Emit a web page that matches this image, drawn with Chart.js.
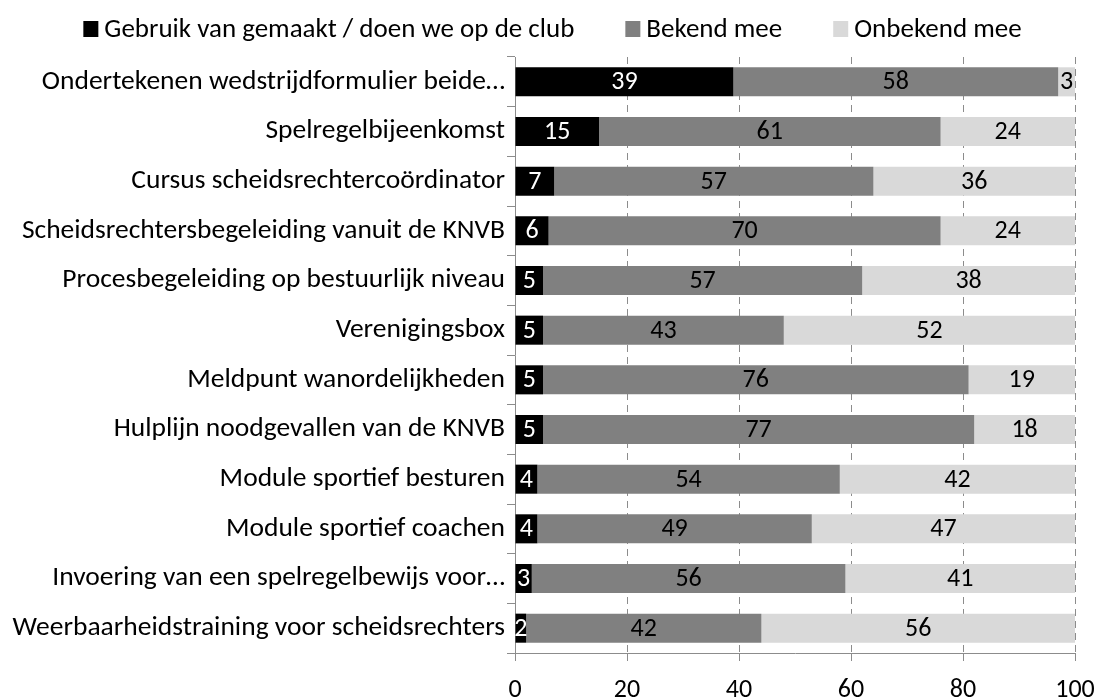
<!DOCTYPE html>
<html>
<head>
<meta charset="utf-8">
<script src="https://cdn.jsdelivr.net/npm/chart.js@4.4.1/dist/chart.umd.min.js"></script>
<style>
html,body{margin:0;padding:0;background:#fff;}
#wrap{width:1097px;height:698px;position:relative;}
</style>
</head>
<body>
<div id="wrap"><canvas id="c" width="1097" height="698"></canvas></div>
<script>
const categories = [
  "Ondertekenen wedstrijdformulier beide…",
  "Spelregelbijeenkomst",
  "Cursus scheidsrechtercoördinator",
  "Scheidsrechtersbegeleiding vanuit de KNVB",
  "Procesbegeleiding op bestuurlijk niveau",
  "Verenigingsbox",
  "Meldpunt wanordelijkheden",
  "Hulplijn noodgevallen van de KNVB",
  "Module sportief besturen",
  "Module sportief coachen",
  "Invoering van een spelregelbewijs voor…",
  "Weerbaarheidstraining voor scheidsrechters"
];
const seriesNames = ["Gebruik van gemaakt / doen we op de club", "Bekend mee", "Onbekend mee"];
const gebruikt = [39, 15, 7, 6, 5, 5, 5, 5, 4, 4, 3, 2];
const bekend   = [58, 61, 57, 70, 57, 43, 76, 77, 54, 49, 56, 42];
const onbekend = [3, 24, 36, 24, 38, 52, 19, 18, 42, 47, 41, 56];
const xTicks = [0, 20, 40, 60, 80, 100];

const FONT = "Carlito, Calibri, 'Liberation Sans Narrow', 'Open Sans', sans-serif";
const colors = ["#000000", "#808080", "#d9d9d9"];
const labelColors = ["#ffffff", "#000000", "#000000"];

const valueLabels = {
  id: 'valueLabels',
  afterDatasetsDraw(chart) {
    const ctx = chart.ctx;
    ctx.save();
    ctx.font = "26px " + FONT;
    ctx.textAlign = 'center';
    ctx.textBaseline = 'middle';
    chart.data.datasets.forEach((ds, di) => {
      const meta = chart.getDatasetMeta(di);
      meta.data.forEach((el, i) => {
        const v = ds.data[i];
        const cx = (el.x + el.base) / 2;
        ctx.fillStyle = labelColors[di];
        ctx.fillText(String(v), cx, el.y + 1);
      });
    });
    ctx.restore();
  }
};

// Legend drawn as a row of boxes + text, centred over the canvas
const topLegend = {
  id: 'topLegend',
  afterDraw(chart) {
    const ctx = chart.ctx;
    const box = 15, gapText = 6, gapItem = 51, cy = 29;
    ctx.save();
    ctx.font = "27px " + FONT;
    ctx.textBaseline = 'middle';
    ctx.textAlign = 'left';
    const widths = seriesNames.map(t => ctx.measureText(t).width);
    const total = widths.reduce((a, w) => a + box + gapText + w, 0) + gapItem * (seriesNames.length - 1);
    let x = (chart.width - total) / 2 + 4;
    seriesNames.forEach((t, i) => {
      ctx.fillStyle = colors[i];
      ctx.fillRect(x, cy - 8, box, 16);
      ctx.fillStyle = '#000';
      ctx.fillText(t, x + box + gapText, cy + 1);
      x += box + gapText + widths[i] + gapItem;
    });
    ctx.restore();
  }
};

new Chart(document.getElementById('c'), {
  type: 'bar',
  data: {
    labels: categories,
    datasets: [
      { label: seriesNames[0], data: gebruikt, backgroundColor: colors[0] },
      { label: seriesNames[1], data: bekend, backgroundColor: colors[1] },
      { label: seriesNames[2], data: onbekend, backgroundColor: colors[2] }
    ]
  },
  options: {
    indexAxis: 'y',
    responsive: false,
    animation: false,
    devicePixelRatio: 1,
    layout: { padding: { left: 0, right: 22, top: 57, bottom: 0 } },
    datasets: { bar: { categoryPercentage: 0.585, barPercentage: 1.0, borderWidth: 0 } },
    plugins: {
      legend: { display: false },
      tooltip: { enabled: false }
    },
    scales: {
      x: {
        stacked: true,
        min: 0, max: 100,
        afterBuildTicks(s) { s.ticks = xTicks.map(v => ({ value: v })); },
        afterFit(s) { s.height = 45; s.paddingRight = 0; s.paddingLeft = 0; },
        ticks: { font: { family: FONT, size: 26 }, color: '#000', padding: 14, maxRotation: 0 },
        grid: {
          color: '#8c8c8c', lineWidth: 1, drawTicks: true, tickLength: 8,
          tickColor: '#8c8c8c', tickBorderDash: []
        },
        border: { display: true, color: '#8c8c8c', width: 1, dash: [7, 5] }
      },
      y: {
        stacked: true,
        afterFit(s) { s.width = 515; s.paddingTop = 0; s.paddingBottom = 0; },
        ticks: { font: { family: FONT, size: 27.5 }, color: '#000', padding: 2, autoSkip: false },
        grid: {
          offset: true, drawOnChartArea: false, drawTicks: true, tickLength: 8,
          color: '#8c8c8c', tickColor: '#8c8c8c'
        },
        border: { display: true, color: '#8c8c8c', width: 1 }
      }
    }
  },
  plugins: [valueLabels, topLegend]
});
</script>
</body>
</html>
